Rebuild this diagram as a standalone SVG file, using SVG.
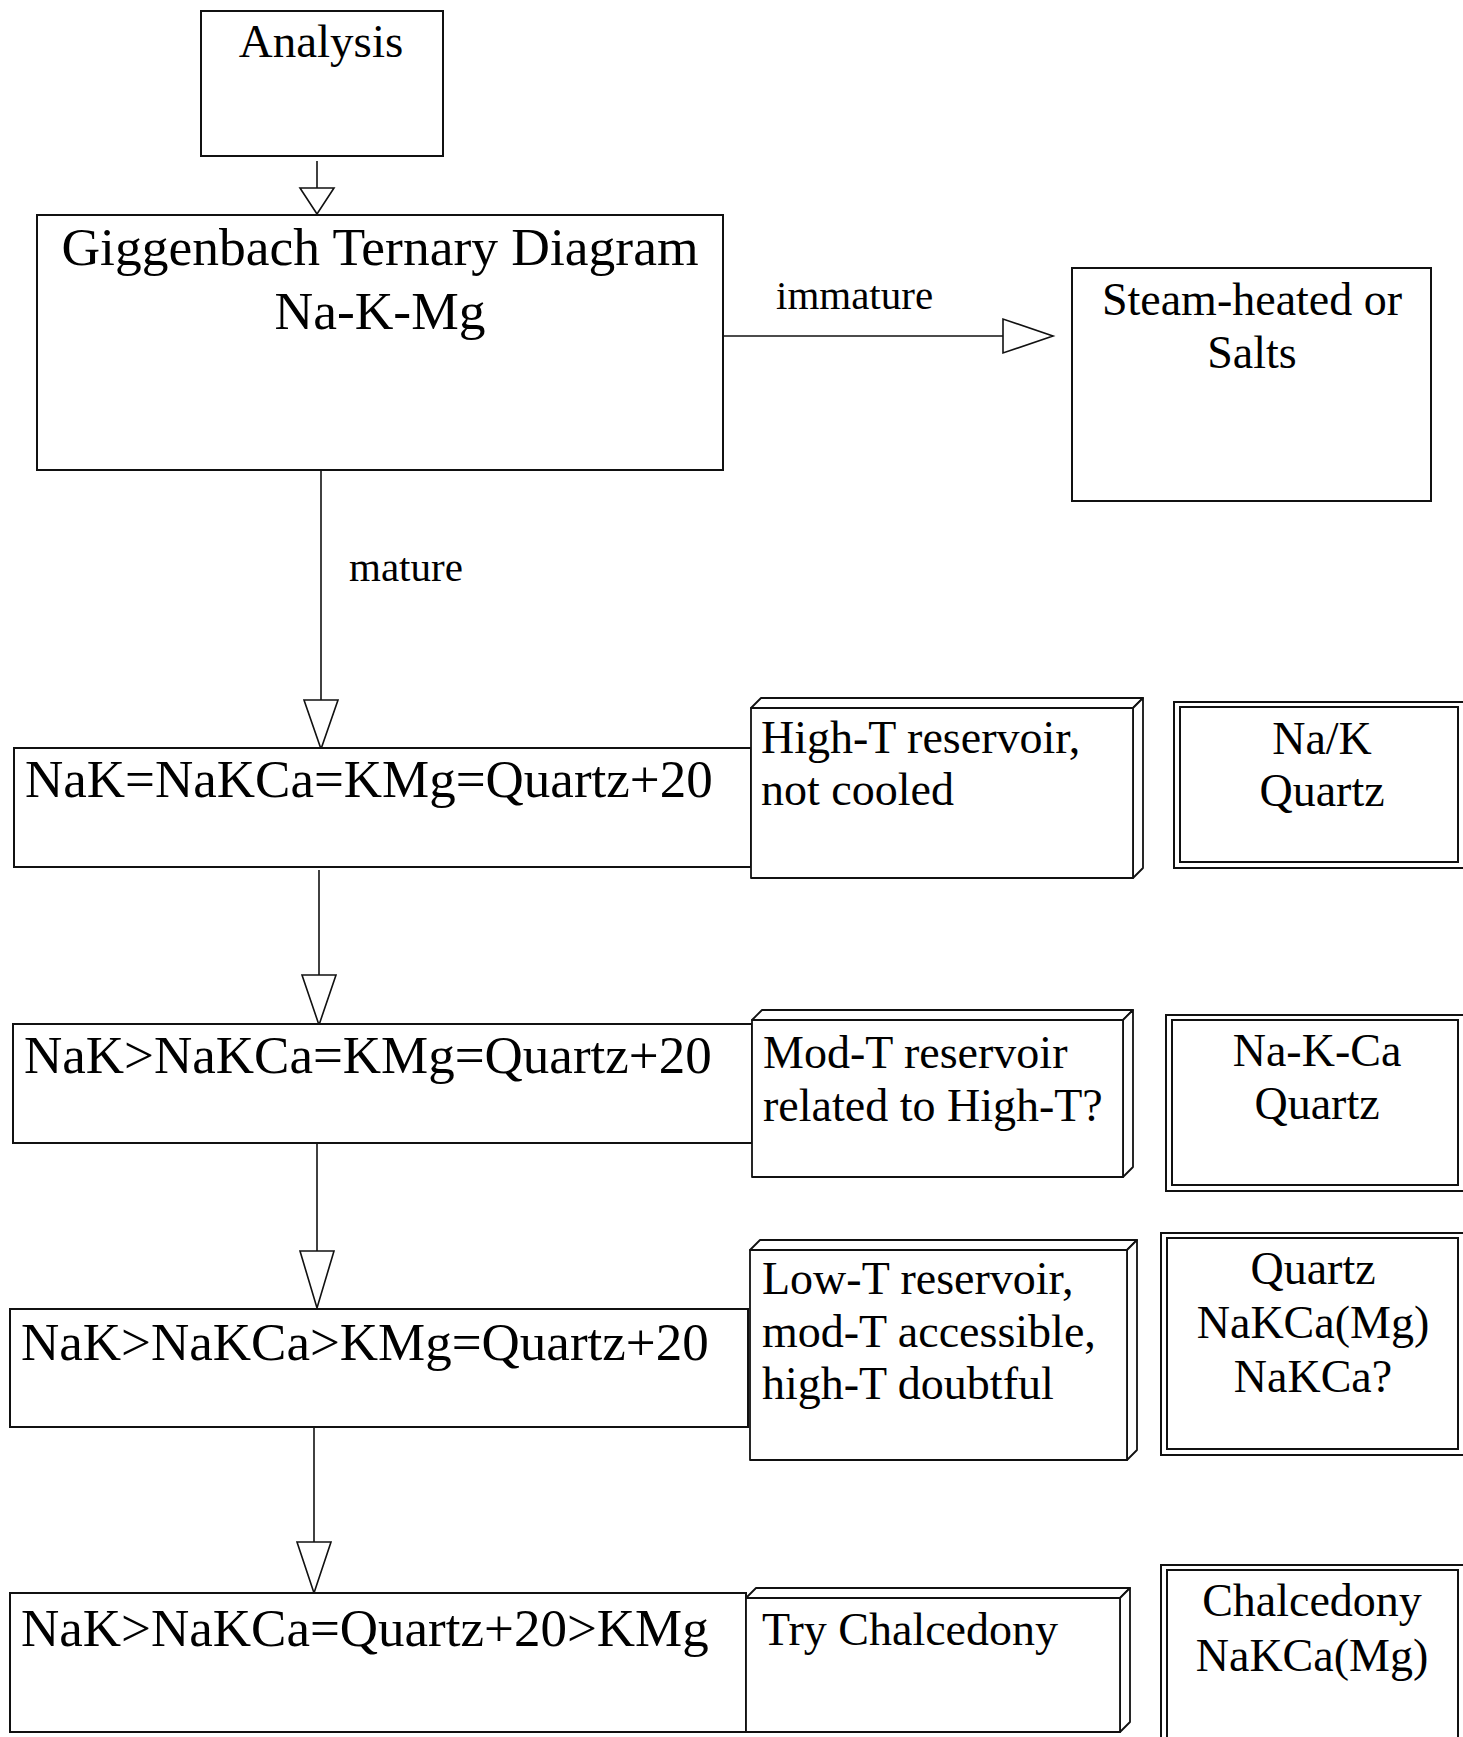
<svg xmlns="http://www.w3.org/2000/svg" width="1463" height="1737" viewBox="0 0 1463 1737">
<style>
  .box { fill: #fff; stroke: #111; stroke-width: 2; }
  .face { fill: #fff; stroke: #111; stroke-width: 1.8; stroke-linejoin: round; }
  .ln { stroke: #111; stroke-width: 1.6; fill: none; }
  .ah { fill: #fff; stroke: #111; stroke-width: 1.6; stroke-linejoin: miter; }
  text { font-family: "Liberation Serif", "Times New Roman", serif; fill: #000; }
  .big { font-size: 53px; }
  .gig { font-size: 53.5px; }
  .mid { font-size: 46px; }
  .lab { font-size: 41px; }
  .c { text-anchor: middle; }
</style>
<rect width="1463" height="1737" fill="#fff"/>

<g id="connectors">
  <line class="ln" x1="317" y1="161" x2="317" y2="188"/>
  <polygon class="ah" points="300,188 334,188 317,214"/>
  <line class="ln" x1="723" y1="336" x2="1003" y2="336"/>
  <polygon class="ah" points="1003,319 1003,353 1053,336"/>
  <text class="lab" x="776" y="309">immature</text>
  <line class="ln" x1="321" y1="470" x2="321" y2="700"/>
  <polygon class="ah" points="304,700 338,700 321,749"/>
  <text class="lab" x="349" y="581">mature</text>
  <line class="ln" x1="319" y1="870" x2="319" y2="975"/>
  <polygon class="ah" points="302,975 336,975 319,1025"/>
  <line class="ln" x1="317" y1="1143" x2="317" y2="1251"/>
  <polygon class="ah" points="300,1251 334,1251 317,1308"/>
  <line class="ln" x1="314" y1="1427" x2="314" y2="1542"/>
  <polygon class="ah" points="297,1542 331,1542 314,1593"/>
</g>

<g id="analysis">
  <rect class="box" x="201" y="11" width="242" height="145"/>
  <text class="mid c" x="321" y="57" style="font-size:47px">Analysis</text>
</g>

<g id="giggenbach">
  <rect class="box" x="37" y="215" width="686" height="255"/>
  <text class="gig c" x="380" y="265">Giggenbach Ternary Diagram</text>
  <text class="gig c" x="380" y="329">Na-K-Mg</text>
</g>

<g id="steam">
  <rect class="box" x="1072" y="268" width="359" height="233"/>
  <text class="mid c" x="1252" y="315">Steam-heated or</text>
  <text class="mid c" x="1252" y="368">Salts</text>
</g>

<g id="row1">
  <rect class="box" x="14" y="748" width="737" height="119"/>
  <text class="big" x="25" y="797">NaK=NaKCa=KMg=Quartz+20</text>
</g>
<g id="interp1">
  <polygon class="face" points="751,708 761,698 1143,698 1133,708"/>
  <polygon class="face" points="1133,708 1143,698 1143,868 1133,878"/>
  <rect class="face" x="751" y="708" width="382" height="170"/>
  <text class="mid" x="761" y="753">High-T reservoir,</text>
  <text class="mid" x="761" y="805">not cooled</text>
</g>
<g id="geo1">
  <rect class="box" x="1174" y="702" width="292" height="166"/>
  <rect class="box" x="1180" y="707" width="278" height="155"/>
  <text class="mid c" x="1322" y="754">Na/K</text>
  <text class="mid c" x="1322" y="806">Quartz</text>
</g>

<g id="row2">
  <rect class="box" x="13" y="1024" width="739" height="119"/>
  <text class="big" x="24" y="1073">NaK&gt;NaKCa=KMg=Quartz+20</text>
</g>
<g id="interp2">
  <polygon class="face" points="752,1020 762,1010 1133,1010 1123,1020"/>
  <polygon class="face" points="1123,1020 1133,1010 1133,1167 1123,1177"/>
  <rect class="face" x="752" y="1020" width="371" height="157"/>
  <text class="mid" x="763" y="1068">Mod-T reservoir</text>
  <text class="mid" x="763" y="1121">related to High-T?</text>
</g>
<g id="geo2">
  <rect class="box" x="1166" y="1015" width="300" height="176"/>
  <rect class="box" x="1172" y="1020" width="286" height="165"/>
  <text class="mid c" x="1317" y="1066">Na-K-Ca</text>
  <text class="mid c" x="1317" y="1119">Quartz</text>
</g>

<g id="row3">
  <rect class="box" x="10" y="1309" width="738" height="118"/>
  <text class="big" x="21" y="1360">NaK&gt;NaKCa&gt;KMg=Quartz+20</text>
</g>
<g id="interp3">
  <polygon class="face" points="750,1250 760,1240 1137,1240 1127,1250"/>
  <polygon class="face" points="1127,1250 1137,1240 1137,1450 1127,1460"/>
  <rect class="face" x="750" y="1250" width="377" height="210"/>
  <text class="mid" x="762" y="1294">Low-T reservoir,</text>
  <text class="mid" x="762" y="1347">mod-T accessible,</text>
  <text class="mid" x="762" y="1399">high-T doubtful</text>
</g>
<g id="geo3">
  <rect class="box" x="1161" y="1233" width="305" height="222"/>
  <rect class="box" x="1167" y="1238" width="291" height="211"/>
  <text class="mid c" x="1313" y="1284">Quartz</text>
  <text class="mid c" x="1313" y="1338">NaKCa(Mg)</text>
  <text class="mid c" x="1313" y="1392">NaKCa?</text>
</g>

<g id="row4">
  <rect class="box" x="10" y="1593" width="736" height="139"/>
  <text class="big" x="21" y="1646">NaK&gt;NaKCa=Quartz+20&gt;KMg</text>
</g>
<g id="interp4">
  <polygon class="face" points="746,1598 756,1588 1130,1588 1120,1598"/>
  <polygon class="face" points="1120,1598 1130,1588 1130,1722 1120,1732"/>
  <rect class="face" x="746" y="1598" width="374" height="134"/>
  <text class="mid" x="762" y="1645">Try Chalcedony</text>
</g>
<g id="geo4">
  <rect class="box" x="1161" y="1565" width="305" height="180"/>
  <rect class="box" x="1167" y="1570" width="291" height="170"/>
  <text class="mid c" x="1312" y="1616">Chalcedony</text>
  <text class="mid c" x="1312" y="1671">NaKCa(Mg)</text>
</g>
</svg>
